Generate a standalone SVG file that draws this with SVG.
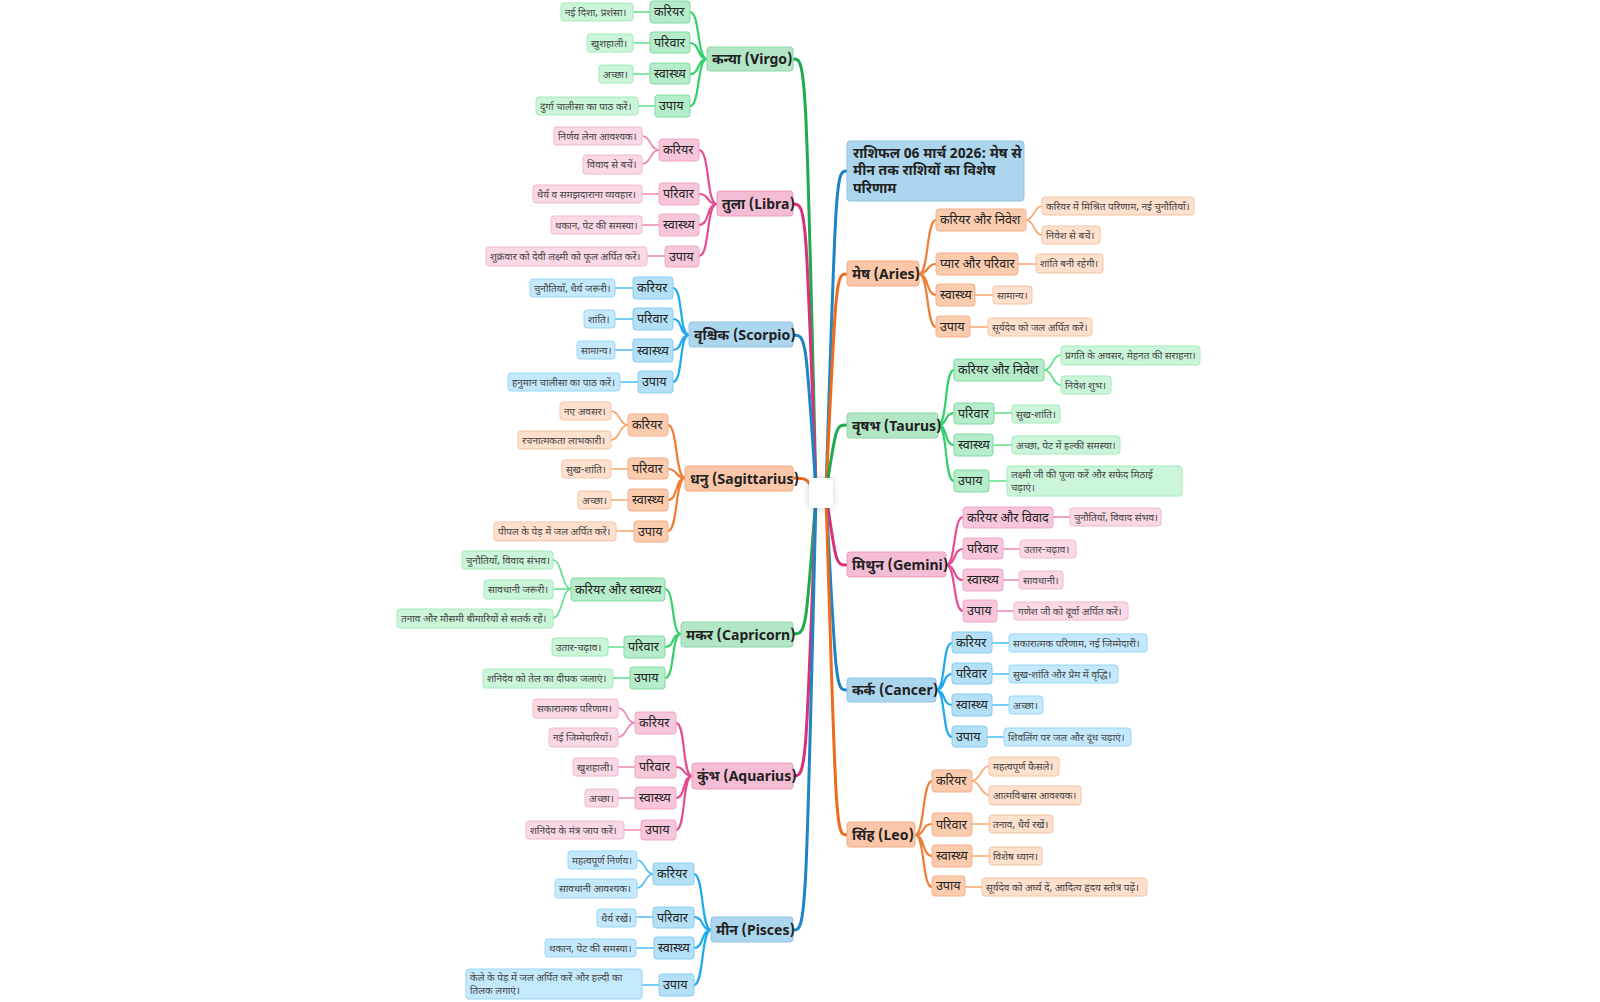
<svg xmlns="http://www.w3.org/2000/svg" width="1600" height="1002" viewBox="0 0 1600 1002">
<style>
text{font-family:"Noto Sans Devanagari","Noto Sans","Liberation Sans",sans-serif;fill:#222}
.t1{font-size:14px;font-weight:bold}
.t2{font-size:12.5px}
.t3{font-size:10px;fill:#444}
rect{stroke-width:1}
.g1{fill:#b3e6c5;stroke:#8dd5a6}.g2{fill:#b5ecca;stroke:#7ed99f}.g3{fill:#cbf5d8;stroke:#a3ebba}
.p1{fill:#f5bdd5;stroke:#ea9cbf}.p2{fill:#f7c6db;stroke:#eea8c8}.p3{fill:#fad8e6;stroke:#f3b8d0}
.b1{fill:#acd6ee;stroke:#8cc3e6}.b2{fill:#b3e0f7;stroke:#86cbf2}.b3{fill:#c4e9fc;stroke:#99d6f8}
.o1{fill:#fbc7a8;stroke:#f2ab84}.o2{fill:#fbcbae;stroke:#f5b08a}.o3{fill:#fde0cd;stroke:#f8c3a3}
path{fill:none}
.mg{stroke:#1faa4f;stroke-width:3}.mp{stroke:#d9307a;stroke-width:3}.mb{stroke:#1d84c6;stroke-width:3}.mo{stroke:#ee6a1c;stroke-width:3}
.sg{stroke:#33d16a;stroke-width:2.2}.sp{stroke:#e34d92;stroke-width:2.2}.sb{stroke:#1eaaf0;stroke-width:2.2}.so{stroke:#f07f36;stroke-width:2.2}
.lg{stroke:#5fe08a;stroke-width:1.6}.lp{stroke:#ee88b5;stroke-width:1.6}.lb{stroke:#4dbff5;stroke-width:1.6}.lo{stroke:#f7a66f;stroke-width:1.6}
</style>
<defs><filter id="sh" x="-50%" y="-50%" width="200%" height="200%"><feDropShadow dx="0" dy="0" stdDeviation="3" flood-color="#000" flood-opacity="0.2"/></filter></defs>
<g id="connectors">
<path class="mg" d="M816 492 C806 59,806 59,793 59"/>
<path class="mp" d="M816 492 C806 204,806 204,793 204"/>
<path class="mb" d="M816 492 C806 335,806 335,793 335"/>
<path class="mo" d="M816 492 C806 478,806 478,793 478"/>
<path class="mg" d="M816 494 C806 634,806 634,793 634"/>
<path class="mp" d="M816 494 C806 776,806 776,793 776"/>
<path class="mb" d="M816 494 C806 930,806 930,793 930"/>
<path class="mb" d="M826 492 C836 171,836 171,847 171"/>
<path class="mo" d="M826 492 C836 274,836 274,847 274"/>
<path class="mg" d="M826 492 C836 425,836 425,847 425"/>
<path class="mp" d="M826 494 C836 565,836 565,847 565"/>
<path class="mb" d="M826 494 C836 690,836 690,847 690"/>
<path class="mo" d="M826 494 C836 835,836 835,847 835"/>
<!-- Virgo -->
<path class="sg" d="M707 59 C697 59,700 12,690 12 M707 59 C697 59,700 43,690 43 M707 59 C697 59,700 74,690 74 M707 59 C697 59,700 106,690 106"/>
<path class="lg" d="M650 12 H633 M650 43 H633 M650 74 H633 M655 106 H638"/>
<!-- Libra -->
<path class="sp" d="M717 204 C706 204,710 150,699 150 M717 204 C706 204,710 194,699 194 M717 204 C706 204,710 225,699 225 M717 204 C706 204,710 256,699 256"/>
<path class="lp" d="M659 150 C650 150,651 136,642 136 M659 150 C650 150,651 164,642 164 M659 194 H642 M659 225 H642 M665 256 H647"/>
<!-- Scorpio -->
<path class="sb" d="M689 335 C679 335,683 288,673 288 M689 335 C679 335,683 319,673 319 M689 335 C679 335,683 350,673 350 M689 335 C679 335,683 382,673 382"/>
<path class="lb" d="M633 288 H615 M633 319 H615 M633 350 H615 M638 382 H620"/>
<!-- Sagittarius -->
<path class="so" d="M685 478 C675 478,678 425,668 425 M685 478 C675 478,678 469,668 469 M685 478 C675 478,678 500,668 500 M685 478 C675 478,678 531,668 531"/>
<path class="lo" d="M628 425 C619 425,620 411,611 411 M628 425 C619 425,620 440,611 440 M628 469 H611 M628 500 H611 M634 531 H616"/>
<!-- Capricorn -->
<path class="sg" d="M681 634 C671 634,675 589,665 589 M681 634 C671 634,675 647,665 647 M681 634 C671 634,675 678,665 678"/>
<path class="lg" d="M571 589 C562 589,562 560,553 560 M571 589 H553 M571 589 C562 589,562 618,553 618 M624 647 H608 M630 678 H613"/>
<!-- Aquarius -->
<path class="sp" d="M692 776 C682 776,686 723,676 723 M692 776 C682 776,686 767,676 767 M692 776 C682 776,686 798,676 798 M692 776 C682 776,686 830,676 830"/>
<path class="lp" d="M635 723 C626 723,627 708,618 708 M635 723 C626 723,627 737,618 737 M635 767 H618 M635 798 H618 M641 830 H624"/>
<!-- Pisces -->
<path class="sb" d="M711 930 C701 930,704 874,694 874 M711 930 C701 930,704 917,694 917 M711 930 C701 930,704 948,694 948 M711 930 C701 930,704 985,694 985"/>
<path class="lb" d="M653 874 C645 874,645 860,637 860 M653 874 C645 874,645 888,637 888 M653 917 H636 M654 948 H636 M659 985 H642"/>
<!-- Aries -->
<path class="so" d="M919 274 C929 274,926 220,936 220 M919 274 C929 274,926 264,936 264 M919 274 C929 274,926 295,936 295 M919 274 C929 274,926 327,936 327"/>
<path class="lo" d="M1026 220 C1034 220,1034 206,1042 206 M1026 220 C1034 220,1034 235,1042 235 M1018 264 H1036 M975 295 H993 M970 327 H988"/>
<!-- Taurus -->
<path class="sg" d="M938 425 C948 425,944 370,954 370 M938 425 C948 425,944 413,954 413 M938 425 C948 425,944 445,954 445 M938 425 C948 425,944 481,954 481"/>
<path class="lg" d="M1044 370 C1053 370,1052 355,1061 355 M1044 370 C1053 370,1052 385,1061 385 M994 413 H1012 M993 445 H1012 M989 481 H1007"/>
<!-- Gemini -->
<path class="sp" d="M946 565 C956 565,953 517,963 517 M946 565 C956 565,953 549,963 549 M946 565 C956 565,953 580,963 580 M946 565 C956 565,953 611,963 611"/>
<path class="lp" d="M1053 517 H1070 M1003 549 H1020 M1003 580 H1019 M997 611 H1014"/>
<!-- Cancer -->
<path class="sb" d="M936 690 C946 690,942 643,952 643 M936 690 C946 690,942 674,952 674 M936 690 C946 690,942 705,952 705 M936 690 C946 690,942 737,952 737"/>
<path class="lb" d="M992 643 H1009 M992 674 H1009 M992 705 H1009 M987 737 H1004"/>
<!-- Leo -->
<path class="so" d="M915 835 C925 835,922 781,932 781 M915 835 C925 835,922 824,932 824 M915 835 C925 835,922 856,932 856 M915 835 C925 835,922 887,932 887"/>
<path class="lo" d="M972 781 C980 781,981 766,989 766 M972 781 C980 781,981 795,989 795 M972 824 H989 M972 856 H989 M965 887 H982"/>
</g>
<g id="center"><rect x="809" y="478" width="24" height="30" rx="4" fill="#fff" filter="url(#sh)"/></g>
<g id="title"><rect class="b1" x="847" y="141" width="177" height="60" rx="3" stroke="#7fbde6"/><text class="t1" x="853" y="158">राशिफल 06 मार्च 2026: मेष से</text><text class="t1" x="853" y="175">मीन तक राशियों का विशेष</text><text class="t1" x="853" y="193">परिणाम</text></g>
<g id="virgo">
<rect class="g1" x="707" y="47" width="86" height="24" rx="3"/><text class="t1" x="712" y="64">कन्या (Virgo)</text>
<rect class="g2" x="650" y="1" width="40" height="22" rx="3"/><text class="t2" x="654" y="16">करियर</text>
<rect class="g3" x="561" y="3" width="72" height="18" rx="3"/><text class="t3" x="565" y="16">नई दिशा, प्रशंसा।</text>
<rect class="g2" x="650" y="32" width="40" height="21" rx="3"/><text class="t2" x="654" y="47">परिवार</text>
<rect class="g3" x="587" y="34" width="46" height="18" rx="3"/><text class="t3" x="591" y="47">खुशहाली।</text>
<rect class="g2" x="650" y="63" width="40" height="21" rx="3"/><text class="t2" x="654" y="78">स्वास्थ्य</text>
<rect class="g3" x="599" y="65" width="34" height="18" rx="3"/><text class="t3" x="603" y="78">अच्छा।</text>
<rect class="g2" x="655" y="95" width="35" height="22" rx="3"/><text class="t2" x="659" y="110">उपाय</text>
<rect class="g3" x="536" y="97" width="102" height="18" rx="3"/><text class="t3" x="540" y="110">दुर्गा चालीसा का पाठ करें।</text>
</g>
<g id="libra">
<rect class="p1" x="717" y="191" width="76" height="25" rx="3"/><text class="t1" x="722" y="209">तुला (Libra)</text>
<rect class="p2" x="659" y="139" width="40" height="22" rx="3"/><text class="t2" x="663" y="154">करियर</text>
<rect class="p3" x="554" y="127" width="88" height="18" rx="3"/><text class="t3" x="558" y="140">निर्णय लेना आवश्यक।</text>
<rect class="p3" x="583" y="155" width="59" height="19" rx="3"/><text class="t3" x="587" y="168">विवाद से बचें।</text>
<rect class="p2" x="659" y="183" width="40" height="22" rx="3"/><text class="t2" x="663" y="198">परिवार</text>
<rect class="p3" x="533" y="185" width="109" height="18" rx="3"/><text class="t3" x="537" y="198">धैर्य व समझदाराना व्यवहार।</text>
<rect class="p2" x="659" y="214" width="40" height="22" rx="3"/><text class="t2" x="663" y="229">स्वास्थ्य</text>
<rect class="p3" x="551" y="216" width="91" height="18" rx="3"/><text class="t3" x="555" y="229">थकान, पेट की समस्या।</text>
<rect class="p2" x="665" y="246" width="34" height="21" rx="3"/><text class="t2" x="669" y="261">उपाय</text>
<rect class="p3" x="486" y="247" width="161" height="19" rx="3"/><text class="t3" x="490" y="260">शुक्रवार को देवी लक्ष्मी को फूल अर्पित करें।</text>
</g>
<g id="scorpio">
<rect class="b1" x="689" y="322" width="104" height="25" rx="3"/><text class="t1" x="694" y="340">वृश्चिक (Scorpio)</text>
<rect class="b2" x="633" y="277" width="40" height="22" rx="3"/><text class="t2" x="637" y="292">करियर</text>
<rect class="b3" x="530" y="279" width="85" height="18" rx="3"/><text class="t3" x="534" y="292">चुनौतियाँ, धैर्य जरूरी।</text>
<rect class="b2" x="633" y="308" width="40" height="22" rx="3"/><text class="t2" x="637" y="323">परिवार</text>
<rect class="b3" x="584" y="310" width="31" height="18" rx="3"/><text class="t3" x="588" y="323">शांति।</text>
<rect class="b2" x="633" y="339" width="40" height="23" rx="3"/><text class="t2" x="637" y="355">स्वास्थ्य</text>
<rect class="b3" x="577" y="341" width="38" height="18" rx="3"/><text class="t3" x="581" y="354">सामान्य।</text>
<rect class="b2" x="638" y="371" width="35" height="22" rx="3"/><text class="t2" x="642" y="386">उपाय</text>
<rect class="b3" x="508" y="373" width="112" height="18" rx="3"/><text class="t3" x="512" y="386">हनुमान चालीसा का पाठ करें।</text>
</g>
<g id="sagittarius">
<rect class="o1" x="685" y="466" width="108" height="25" rx="3"/><text class="t1" x="690" y="484">धनु (Sagittarius)</text>
<rect class="o2" x="628" y="414" width="40" height="22" rx="3"/><text class="t2" x="632" y="429">करियर</text>
<rect class="o3" x="560" y="402" width="51" height="18" rx="3"/><text class="t3" x="564" y="415">नए अवसर।</text>
<rect class="o3" x="518" y="431" width="93" height="18" rx="3"/><text class="t3" x="522" y="444">रचनात्मकता लाभकारी।</text>
<rect class="o2" x="628" y="458" width="40" height="21" rx="3"/><text class="t2" x="632" y="473">परिवार</text>
<rect class="o3" x="562" y="460" width="49" height="18" rx="3"/><text class="t3" x="566" y="473">सुख-शांति।</text>
<rect class="o2" x="628" y="489" width="40" height="22" rx="3"/><text class="t2" x="632" y="504">स्वास्थ्य</text>
<rect class="o3" x="578" y="491" width="33" height="18" rx="3"/><text class="t3" x="582" y="504">अच्छा।</text>
<rect class="o2" x="634" y="521" width="34" height="21" rx="3"/><text class="t2" x="638" y="536">उपाय</text>
<rect class="o3" x="494" y="522" width="122" height="19" rx="3"/><text class="t3" x="498" y="535">पीपल के पेड़ में जल अर्पित करें।</text>
</g>
<g id="capricorn">
<rect class="g1" x="681" y="622" width="112" height="25" rx="3"/><text class="t1" x="686" y="640">मकर (Capricorn)</text>
<rect class="g2" x="571" y="578" width="94" height="23" rx="3"/><text class="t2" x="575" y="594">करियर और स्वास्थ्य</text>
<rect class="g3" x="462" y="551" width="91" height="18" rx="3"/><text class="t3" x="466" y="564">चुनौतियाँ, विवाद संभव।</text>
<rect class="g3" x="484" y="580" width="69" height="19" rx="3"/><text class="t3" x="488" y="593">सावधानी जरूरी।</text>
<rect class="g3" x="397" y="609" width="156" height="19" rx="3"/><text class="t3" x="401" y="622">तनाव और मौसमी बीमारियों से सतर्क रहें।</text>
<rect class="g2" x="624" y="636" width="41" height="22" rx="3"/><text class="t2" x="628" y="651">परिवार</text>
<rect class="g3" x="552" y="638" width="56" height="18" rx="3"/><text class="t3" x="556" y="651">उतार-चढ़ाव।</text>
<rect class="g2" x="630" y="667" width="35" height="22" rx="3"/><text class="t2" x="634" y="682">उपाय</text>
<rect class="g3" x="483" y="669" width="130" height="19" rx="3"/><text class="t3" x="487" y="682">शनिदेव को तेल का दीपक जलाएं।</text>
</g>
<g id="aquarius">
<rect class="p1" x="692" y="763" width="101" height="26" rx="3"/><text class="t1" x="697" y="781">कुंभ (Aquarius)</text>
<rect class="p2" x="635" y="712" width="41" height="22" rx="3"/><text class="t2" x="639" y="727">करियर</text>
<rect class="p3" x="533" y="699" width="85" height="19" rx="3"/><text class="t3" x="537" y="712">सकारात्मक परिणाम।</text>
<rect class="p3" x="549" y="728" width="69" height="19" rx="3"/><text class="t3" x="553" y="741">नई जिम्मेदारियाँ।</text>
<rect class="p2" x="635" y="756" width="41" height="22" rx="3"/><text class="t2" x="639" y="771">परिवार</text>
<rect class="p3" x="573" y="758" width="45" height="18" rx="3"/><text class="t3" x="577" y="771">खुशहाली।</text>
<rect class="p2" x="635" y="787" width="41" height="22" rx="3"/><text class="t2" x="639" y="802">स्वास्थ्य</text>
<rect class="p3" x="585" y="789" width="33" height="18" rx="3"/><text class="t3" x="589" y="802">अच्छा।</text>
<rect class="p2" x="641" y="820" width="35" height="20" rx="3"/><text class="t2" x="645" y="834">उपाय</text>
<rect class="p3" x="526" y="821" width="98" height="18" rx="3"/><text class="t3" x="530" y="834">शनिदेव के मंत्र जाप करें।</text>
</g>
<g id="pisces">
<rect class="b1" x="711" y="917" width="82" height="25" rx="3"/><text class="t1" x="716" y="935">मीन (Pisces)</text>
<rect class="b2" x="653" y="863" width="41" height="22" rx="3"/><text class="t2" x="657" y="878">करियर</text>
<rect class="b3" x="568" y="851" width="69" height="18" rx="3"/><text class="t3" x="572" y="864">महत्वपूर्ण निर्णय।</text>
<rect class="b3" x="555" y="879" width="82" height="19" rx="3"/><text class="t3" x="559" y="892">सावधानी आवश्यक।</text>
<rect class="b2" x="653" y="907" width="41" height="21" rx="3"/><text class="t2" x="657" y="922">परिवार</text>
<rect class="b3" x="597" y="909" width="39" height="18" rx="3"/><text class="t3" x="601" y="922">धैर्य रखें।</text>
<rect class="b2" x="654" y="937" width="40" height="22" rx="3"/><text class="t2" x="658" y="952">स्वास्थ्य</text>
<rect class="b3" x="545" y="939" width="91" height="18" rx="3"/><text class="t3" x="549" y="952">थकान, पेट की समस्या।</text>
<rect class="b2" x="659" y="974" width="35" height="22" rx="3"/><text class="t2" x="663" y="989">उपाय</text>
<rect class="b3" x="466" y="969" width="176" height="30" rx="3"/><text class="t3" x="470" y="981">केले के पेड़ में जल अर्पित करें और हल्दी का</text><text class="t3" x="470" y="994">तिलक लगाएं।</text>
</g>
<g id="aries">
<rect class="o1" x="847" y="261" width="72" height="25" rx="3"/><text class="t1" x="852" y="279">मेष (Aries)</text>
<rect class="o2" x="936" y="209" width="90" height="22" rx="3"/><text class="t2" x="940" y="224">करियर और निवेश</text>
<rect class="o3" x="1042" y="197" width="152" height="18" rx="3"/><text class="t3" x="1046" y="210">करियर में मिश्रित परिणाम, नई चुनौतियाँ।</text>
<rect class="o3" x="1042" y="226" width="58" height="18" rx="3"/><text class="t3" x="1046" y="239">निवेश से बचें।</text>
<rect class="o2" x="936" y="253" width="82" height="22" rx="3"/><text class="t2" x="940" y="268">प्यार और परिवार</text>
<rect class="o3" x="1036" y="254" width="67" height="19" rx="3"/><text class="t3" x="1040" y="267">शांति बनी रहेगी।</text>
<rect class="o2" x="936" y="284" width="39" height="22" rx="3"/><text class="t2" x="940" y="299">स्वास्थ्य</text>
<rect class="o3" x="993" y="286" width="39" height="18" rx="3"/><text class="t3" x="997" y="299">सामान्य।</text>
<rect class="o2" x="936" y="316" width="34" height="21" rx="3"/><text class="t2" x="940" y="331">उपाय</text>
<rect class="o3" x="988" y="318" width="104" height="18" rx="3"/><text class="t3" x="992" y="331">सूर्यदेव को जल अर्पित करें।</text>
</g>
<g id="taurus">
<rect class="g1" x="847" y="413" width="91" height="25" rx="3"/><text class="t1" x="852" y="431">वृषभ (Taurus)</text>
<rect class="g2" x="954" y="359" width="90" height="22" rx="3"/><text class="t2" x="958" y="374">करियर और निवेश</text>
<rect class="g3" x="1061" y="346" width="139" height="19" rx="3"/><text class="t3" x="1065" y="359">प्रगति के अवसर, मेहनत की सराहना।</text>
<rect class="g3" x="1061" y="376" width="50" height="18" rx="3"/><text class="t3" x="1065" y="389">निवेश शुभ।</text>
<rect class="g2" x="954" y="403" width="40" height="21" rx="3"/><text class="t2" x="958" y="418">परिवार</text>
<rect class="g3" x="1012" y="405" width="48" height="18" rx="3"/><text class="t3" x="1016" y="418">सुख-शांति।</text>
<rect class="g2" x="954" y="434" width="39" height="22" rx="3"/><text class="t2" x="958" y="449">स्वास्थ्य</text>
<rect class="g3" x="1012" y="436" width="108" height="18" rx="3"/><text class="t3" x="1016" y="449">अच्छा, पेट में हल्की समस्या।</text>
<rect class="g2" x="954" y="470" width="35" height="22" rx="3"/><text class="t2" x="958" y="485">उपाय</text>
<rect class="g3" x="1007" y="466" width="175" height="30" rx="3"/><text class="t3" x="1011" y="478">लक्ष्मी जी की पूजा करें और सफेद मिठाई</text><text class="t3" x="1011" y="491">चढ़ाएं।</text>
</g>
<g id="gemini">
<rect class="p1" x="847" y="552" width="99" height="25" rx="3"/><text class="t1" x="852" y="570">मिथुन (Gemini)</text>
<rect class="p2" x="963" y="507" width="90" height="21" rx="3"/><text class="t2" x="967" y="522">करियर और विवाद</text>
<rect class="p3" x="1070" y="508" width="91" height="18" rx="3"/><text class="t3" x="1074" y="521">चुनौतियाँ, विवाद संभव।</text>
<rect class="p2" x="963" y="538" width="40" height="21" rx="3"/><text class="t2" x="967" y="553">परिवार</text>
<rect class="p3" x="1020" y="540" width="56" height="18" rx="3"/><text class="t3" x="1024" y="553">उतार-चढ़ाव।</text>
<rect class="p2" x="963" y="569" width="40" height="22" rx="3"/><text class="t2" x="967" y="584">स्वास्थ्य</text>
<rect class="p3" x="1019" y="571" width="44" height="18" rx="3"/><text class="t3" x="1023" y="584">सावधानी।</text>
<rect class="p2" x="963" y="600" width="34" height="22" rx="3"/><text class="t2" x="967" y="615">उपाय</text>
<rect class="p3" x="1014" y="602" width="114" height="18" rx="3"/><text class="t3" x="1018" y="615">गणेश जी को दूर्वा अर्पित करें।</text>
</g>
<g id="cancer">
<rect class="b1" x="847" y="678" width="89" height="24" rx="3"/><text class="t1" x="852" y="695">कर्क (Cancer)</text>
<rect class="b2" x="952" y="632" width="40" height="21" rx="3"/><text class="t2" x="956" y="647">करियर</text>
<rect class="b3" x="1009" y="634" width="138" height="18" rx="3"/><text class="t3" x="1013" y="647">सकारात्मक परिणाम, नई जिम्मेदारी।</text>
<rect class="b2" x="952" y="663" width="40" height="21" rx="3"/><text class="t2" x="956" y="678">परिवार</text>
<rect class="b3" x="1009" y="665" width="109" height="18" rx="3"/><text class="t3" x="1013" y="678">सुख-शांति और प्रेम में वृद्धि।</text>
<rect class="b2" x="952" y="694" width="40" height="22" rx="3"/><text class="t2" x="956" y="709">स्वास्थ्य</text>
<rect class="b3" x="1009" y="696" width="34" height="18" rx="3"/><text class="t3" x="1013" y="709">अच्छा।</text>
<rect class="b2" x="952" y="726" width="35" height="21" rx="3"/><text class="t2" x="956" y="741">उपाय</text>
<rect class="b3" x="1004" y="728" width="127" height="18" rx="3"/><text class="t3" x="1008" y="741">शिवलिंग पर जल और दूध चढ़ाएं।</text>
</g>
<g id="leo">
<rect class="o1" x="847" y="822" width="68" height="25" rx="3"/><text class="t1" x="852" y="840">सिंह (Leo)</text>
<rect class="o2" x="932" y="770" width="40" height="22" rx="3"/><text class="t2" x="936" y="785">करियर</text>
<rect class="o3" x="989" y="757" width="70" height="19" rx="3"/><text class="t3" x="993" y="770">महत्वपूर्ण फैसले।</text>
<rect class="o3" x="989" y="786" width="92" height="19" rx="3"/><text class="t3" x="993" y="799">आत्मविश्वास आवश्यक।</text>
<rect class="o2" x="932" y="813" width="40" height="23" rx="3"/><text class="t2" x="936" y="829">परिवार</text>
<rect class="o3" x="989" y="815" width="64" height="18" rx="3"/><text class="t3" x="993" y="828">तनाव, धैर्य रखें।</text>
<rect class="o2" x="932" y="845" width="40" height="22" rx="3"/><text class="t2" x="936" y="860">स्वास्थ्य</text>
<rect class="o3" x="989" y="847" width="53" height="18" rx="3"/><text class="t3" x="993" y="860">विशेष ध्यान।</text>
<rect class="o2" x="932" y="876" width="33" height="20" rx="3"/><text class="t2" x="936" y="890">उपाय</text>
<rect class="o3" x="982" y="878" width="165" height="18" rx="3"/><text class="t3" x="986" y="891">सूर्यदेव को अर्घ्य दें, आदित्य हृदय स्तोत्र पढ़ें।</text>
</g>
</svg>
